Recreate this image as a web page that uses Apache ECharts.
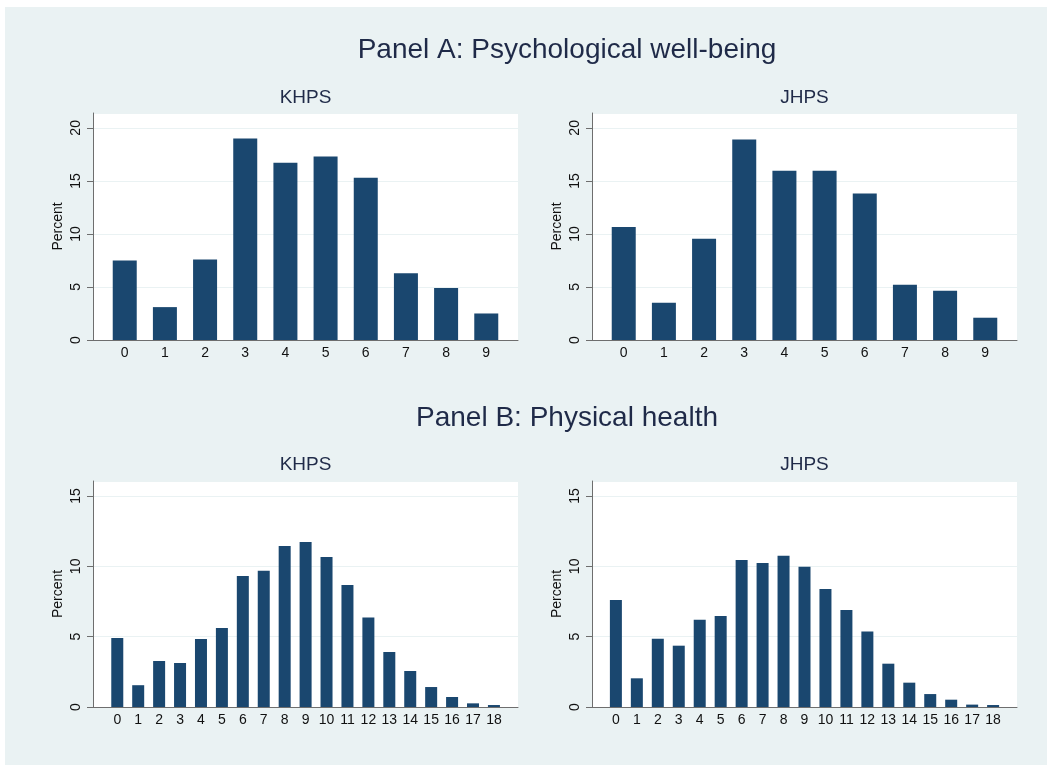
<!DOCTYPE html>
<html>
<head>
<meta charset="utf-8">
<script src="https://cdn.jsdelivr.net/npm/echarts@6/dist/echarts.min.js"></script>
<style>
  html, body { margin: 0; padding: 0; background: #ffffff; }
  #chart { position: absolute; left: 5px; top: 7px; width: 1042px; height: 758px; }
</style>
</head>
<body>
<div id="chart"></div>
<script>
// Score categories
const wellbeingScores = [0, 1, 2, 3, 4, 5, 6, 7, 8, 9];
const healthScores = [0, 1, 2, 3, 4, 5, 6, 7, 8, 9, 10, 11, 12, 13, 14, 15, 16, 17, 18];

// Percent of respondents at each score
const khpsWellbeing = [7.5, 3.1, 7.6, 19.0, 16.7, 17.3, 15.3, 6.3, 4.9, 2.5];
const jhpsWellbeing = [10.65, 3.5, 9.55, 18.9, 15.95, 15.95, 13.8, 5.2, 4.65, 2.1];
const khpsHealth = [4.9, 1.55, 3.27, 3.13, 4.83, 5.62, 9.31, 9.69, 11.45, 11.73, 10.66, 8.67, 6.37, 3.91, 2.56, 1.42, 0.71, 0.26, 0.14];
const jhpsHealth = [7.61, 2.04, 4.86, 4.36, 6.21, 6.47, 10.45, 10.24, 10.76, 9.98, 8.39, 6.9, 5.36, 3.08, 1.73, 0.92, 0.52, 0.17, 0.14];

// Text
const panelTitles = ['Panel A: Psychological well-being', 'Panel B: Physical health'];
const surveyNames = ['KHPS', 'JHPS'];
const yAxisTitle = 'Percent';

const FONT = '"Liberation Sans", Arial, sans-serif';
const BAR = '#1a476f';
const BG = '#eaf2f3';
const TEXT = '#1f2a48';

const chart = echarts.init(document.getElementById('chart'), null, { renderer: 'canvas' });

const grids = [
  { left: 88, top: 106, width: 425, height: 227 },
  { left: 587, top: 106, width: 425, height: 227 },
  { left: 88, top: 474, width: 425, height: 226 },
  { left: 587, top: 474, width: 425, height: 226 }
];

const panels = [
  { cats: wellbeingScores, vals: khpsWellbeing, xmin: -0.79, xmax: 9.79, ymax: 21.4, barWidth: 24 },
  { cats: wellbeingScores, vals: jhpsWellbeing, xmin: -0.79, xmax: 9.79, ymax: 21.4, barWidth: 24 },
  { cats: healthScores, vals: khpsHealth, xmin: -1.16, xmax: 19.15, ymax: 16.07, barWidth: 12 },
  { cats: healthScores, vals: jhpsHealth, xmin: -1.14, xmax: 19.14, ymax: 16.07, barWidth: 12 }
];

const option = {
  animation: false,
  backgroundColor: BG,
  textStyle: { fontFamily: FONT },
  grid: grids.map(g => Object.assign({ show: true, backgroundColor: '#ffffff', borderWidth: 0 }, g)),
  xAxis: panels.map((p, i) => ({
    type: 'value',
    gridIndex: i,
    min: p.xmin,
    max: p.xmax,
    axisLine: { show: true, onZero: false, lineStyle: { color: '#6e6e6e', width: 1 } },
    axisTick: { show: false },
    splitLine: { show: false },
    axisLabel: {
      customValues: p.cats,
      margin: 6,
      fontSize: 14,
      color: '#111',
      fontFamily: FONT
    }
  })),
  yAxis: panels.map((p, i) => ({
    type: 'value',
    gridIndex: i,
    min: 0,
    max: p.ymax,
    interval: 5,
    name: yAxisTitle,
    nameLocation: 'middle',
    nameRotate: 90,
    nameGap: 28,
    nameTextStyle: { fontSize: 14, color: '#111', fontFamily: FONT },
    axisLine: { show: true, onZero: false, lineStyle: { color: '#6e6e6e', width: 1 } },
    axisTick: { show: true, length: 6, lineStyle: { color: '#6e6e6e' } },
    splitLine: { show: true, lineStyle: { color: BG, width: 1 } },
    axisLabel: {
      rotate: 90,
      margin: 10,
      fontSize: 14,
      color: '#111',
      fontFamily: FONT,
      showMaxLabel: false,
      formatter: v => (v % 5 === 0 ? String(v) : '')
    }
  })),
  series: panels.map((p, i) => ({
    type: 'bar',
    xAxisIndex: i,
    yAxisIndex: i,
    barWidth: p.barWidth,
    itemStyle: { color: BAR },
    data: p.cats.map((c, k) => [c, p.vals[k]])
  })),
  graphic: [
    { type: 'text', x: 562, y: 43, style: { text: panelTitles[0], fontSize: 28, fill: TEXT, fontFamily: FONT, textAlign: 'center', textVerticalAlign: 'middle' } },
    { type: 'text', x: 562, y: 411, style: { text: panelTitles[1], fontSize: 28, fill: TEXT, fontFamily: FONT, textAlign: 'center', textVerticalAlign: 'middle' } },
    { type: 'text', x: 300.5, y: 91, style: { text: surveyNames[0], fontSize: 19, fill: TEXT, fontFamily: FONT, textAlign: 'center', textVerticalAlign: 'middle' } },
    { type: 'text', x: 799.5, y: 91, style: { text: surveyNames[1], fontSize: 19, fill: TEXT, fontFamily: FONT, textAlign: 'center', textVerticalAlign: 'middle' } },
    { type: 'text', x: 300.5, y: 458, style: { text: surveyNames[0], fontSize: 19, fill: TEXT, fontFamily: FONT, textAlign: 'center', textVerticalAlign: 'middle' } },
    { type: 'text', x: 799.5, y: 458, style: { text: surveyNames[1], fontSize: 19, fill: TEXT, fontFamily: FONT, textAlign: 'center', textVerticalAlign: 'middle' } }
  ]
};

chart.setOption(option);
</script>
</body>
</html>
